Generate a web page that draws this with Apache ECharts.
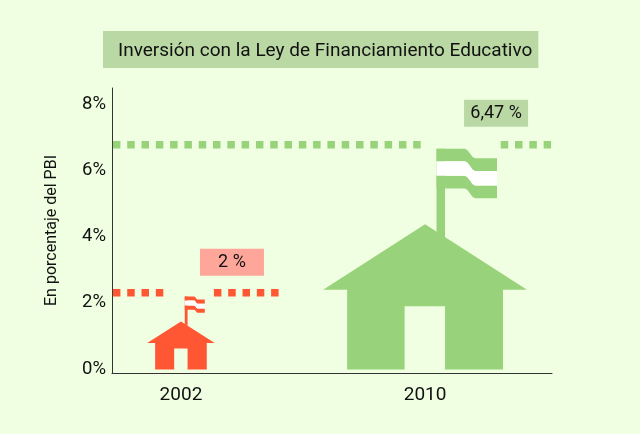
<!DOCTYPE html>
<html><head><meta charset="utf-8">
<style>html,body{margin:0;padding:0;background:#F0FFE1}#c{width:640px;height:434px}</style>
<script src="https://cdn.jsdelivr.net/npm/echarts@6/dist/echarts.min.js"></script>
</head><body><div id="c"></div>
<script>
const titleText = 'Inversión con la Ley de Financiamiento Educativo';
const yAxisName = 'En porcentaje del PBI';
const years = [2002, 2010];
const values = [2, 6.47];
const valueLabels = ['2 %', '6,47 %'];
const yTicks = [0, 2, 4, 6, 8];
const lineGaps = [[[1999.77, 2001.43], [2003.08, 2005.2]], [[1999.77, 2009.9], [2012.48, 2014.13]]];

const FONT = 'Roboto,"Liberation Sans",sans-serif';
const RED = '#FF5733', GREEN = '#98D27A', BG = '#F0FFE1';
const labelBg = ['#FFA69A', '#BAD8A4'];
const labelOffset = [[51, -30.5], [71, -31.5]];
const colors = [RED, GREEN];

// house outline and flag stripes, relative to centre/base, at height 221.5
const H = 221.5;
const wave = (x0, x1, y) => [[x0, y], [40, y], [42.5, y + 1.5], [45, y + 4.8], [47.5, y + 8.2], [50, y + 9.7], [x1, y + 9.7]];
const stripe = (a, b) => wave(11.5, 72, a).concat(wave(11.5, 72, b).reverse());
const body = [[0, -145.5], [102, -80], [78, -80], [78, 0], [20, 0], [20, -63.5], [-20.5, -63.5], [-20.5, 0], [-78, 0], [-78, -80], [-102, -80]];
const pole = [[11.5, -221.2], [20, -221.2], [20, -132], [11.5, -137]];
const flagTop = stripe(-221.2, -208.5), flagWhite = stripe(-208.5, -194), flagBot = stripe(-194, -181.2);

function renderHouse(params, api) {
  const x = api.value(0), v = api.value(1);
  const c = api.coord([x, v]);
  const base = api.coord([x, -0.32]);
  const s = (base[1] - (c[1] + 3.5)) / H;
  const map = pts => pts.map(p => [c[0] + p[0] * s, base[1] + p[1] * s]);
  const col = colors[params.dataIndex];
  const poly = (pts, fill) => ({ type: 'polygon', shape: { points: map(pts) }, style: { fill } });
  return { type: 'group', children: [
    poly(pole, col), poly(flagTop, col), poly(flagBot, col), poly(flagWhite, '#FFFFFF'), poly(body, col)
  ]};
}

const lineSeries = [];
lineGaps.forEach((segs, i) => segs.forEach(seg => lineSeries.push({
  type: 'line', silent: true, symbol: 'none', animation: false,
  data: seg.map(x => [x, values[i]]),
  lineStyle: { color: colors[i], width: 7.5, type: [7.5, 6.8], cap: 'butt' }
})));

const chart = echarts.init(document.getElementById('c'));
chart.setOption({
  animation: false,
  backgroundColor: BG,
  title: {
    text: titleText, left: 103, top: 31, padding: [10, 6, 6, 15],
    backgroundColor: '#BAD8A4',
    textStyle: { fontFamily: FONT, fontSize: 19, fontWeight: 'normal', color: '#111', lineHeight: 21 }
  },
  grid: { left: 112, right: 88, top: 88, bottom: 61 },
  xAxis: {
    type: 'value', min: 1999.74, max: 2014.16, splitLine: { show: false },
    axisLine: { show: true, onZero: false, lineStyle: { color: '#333', width: 1 } },
    axisTick: { show: false },
    axisLabel: { customValues: years, formatter: v => String(v), fontFamily: FONT, fontSize: 19, color: '#111', margin: 13 }
  },
  yAxis: {
    type: 'value', min: -0.423, max: 8.187, splitLine: { show: false },
    name: yAxisName, nameLocation: 'middle', nameGap: 52,
    nameTextStyle: { fontFamily: FONT, fontSize: 16, color: '#111' },
    axisLine: { show: true, lineStyle: { color: '#333', width: 1 } },
    axisTick: { show: false },
    axisLabel: { customValues: yTicks, formatter: v => v + '%', fontFamily: FONT, fontSize: 18.5, color: '#111', margin: 6, verticalAlign: 'top', lineHeight: 20 }
  },
  series: lineSeries.concat([
    { type: 'custom', silent: true, renderItem: renderHouse, data: years.map((y, i) => [y, values[i]]), clip: false, z: 3 },
    { type: 'scatter', silent: true, symbolSize: 0, z: 4, itemStyle: { opacity: 1 },
      data: years.map((y, i) => ({
        value: [y, values[i]],
        label: {
          show: true, position: 'inside', formatter: valueLabels[i], offset: labelOffset[i],
          backgroundColor: labelBg[i], width: 64, height: 27, lineHeight: 27, align: 'center', verticalAlign: 'middle',
          fontFamily: FONT, fontSize: 18, color: '#111'
        }
      })) }
  ])
});
</script></body></html>
